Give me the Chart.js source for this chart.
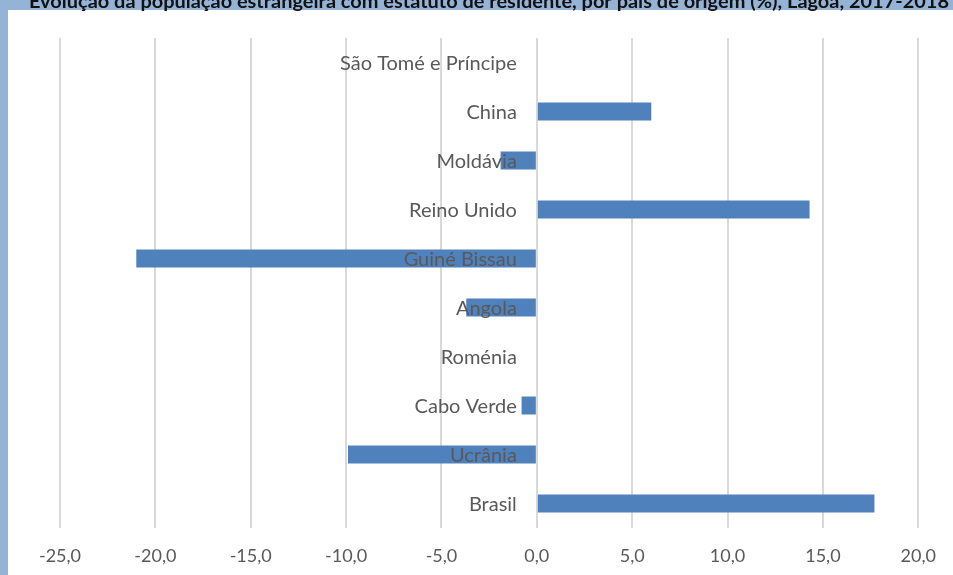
<!DOCTYPE html>
<html>
<head>
<meta charset="utf-8">
<script src="https://cdn.jsdelivr.net/npm/chart.js@4.4.1/dist/chart.umd.min.js"></script>
<style>
  html, body { margin: 0; padding: 0; background: #95b3d7; }
  #wrap { width: 953px; height: 575px; position: relative; }
</style>
</head>
<body>
<div id="wrap"><canvas id="c" width="953" height="575"></canvas></div>
<script>
// Evolução da população estrangeira com estatuto de residente (%), Lagoa, 2017-2018
const chartTitle = 'Evolução da população estrangeira com estatuto de residente, por país de origem (%), Lagoa, 2017-2018';
const countries = ['São Tomé e Príncipe', 'China', 'Moldávia', 'Reino Unido', 'Guiné Bissau',
                   'Angola', 'Roménia', 'Cabo Verde', 'Ucrânia', 'Brasil'];
const variation = [0.0, 6.0, -1.9, 14.3, -21.0, -3.7, 0.0, -0.8, -9.9, 17.7];
const axisMin = -25;
const axisMax = 20;
const axisStep = 5;

const LABEL_FONT = '"Lato", "Open Sans", sans-serif';

// Frame: blue surround with white plot panel, plus the title strip at the top
const framePlugin = {
  id: 'frame',
  beforeDraw(chart) {
    const ctx = chart.ctx;
    ctx.save();
    ctx.fillStyle = '#95b3d7';
    ctx.fillRect(0, 0, chart.width, chart.height);
    ctx.fillStyle = '#ffffff';
    ctx.fillRect(8, 10, chart.width - 8, chart.height - 10);
    ctx.fillStyle = '#111111';
    ctx.font = 'bold 19px ' + LABEL_FONT;
    ctx.textAlign = 'left';
    ctx.textBaseline = 'alphabetic';
    const w = ctx.measureText(chartTitle).width;
    const target = 920;
    ctx.translate(29, 8);
    ctx.scale(target / w, 1);
    ctx.fillText(chartTitle, 0, 0);
    ctx.restore();
  }
};

// Category names sit just left of the zero line, on top of the bars
const categoryLabelPlugin = {
  id: 'categoryLabels',
  afterDatasetsDraw(chart) {
    const ctx = chart.ctx;
    const xs = chart.scales.x;
    const ys = chart.scales.y;
    const x0 = xs.getPixelForValue(0);
    ctx.save();
    ctx.fillStyle = '#595959';
    ctx.font = '20px ' + LABEL_FONT;
    ctx.textAlign = 'right';
    ctx.textBaseline = 'middle';
    countries.forEach((name, i) => {
      ctx.fillText(name, x0 - 20, ys.getPixelForValue(i) + 1);
    });
    ctx.restore();
  }
};

new Chart(document.getElementById('c'), {
  type: 'bar',
  data: {
    labels: countries,
    datasets: [{
      data: variation,
      backgroundColor: '#4f81bd',
      borderWidth: 0,
      categoryPercentage: 1.0,
      barPercentage: 0.37
    }]
  },
  options: {
    indexAxis: 'y',
    responsive: false,
    animation: false,
    events: [],
    layout: { padding: { left: 60, right: 33, top: 38, bottom: 9 } },
    plugins: {
      legend: { display: false },
      title: { display: false },
      tooltip: { enabled: false }
    },
    scales: {
      x: {
        min: axisMin,
        max: axisMax,
        border: { display: false },
        grid: { color: '#d9d9d9', lineWidth: 2, drawTicks: false },
        afterFit(scale) { scale.height = 38; },
        ticks: {
          stepSize: axisStep,
          padding: 17,
          color: '#595959',
          font: { family: LABEL_FONT, size: 18 },
          callback: v => v.toFixed(1).replace('.', ',')
        }
      },
      y: {
        display: false
      }
    }
  },
  plugins: [framePlugin, categoryLabelPlugin]
});
</script>
</body>
</html>
